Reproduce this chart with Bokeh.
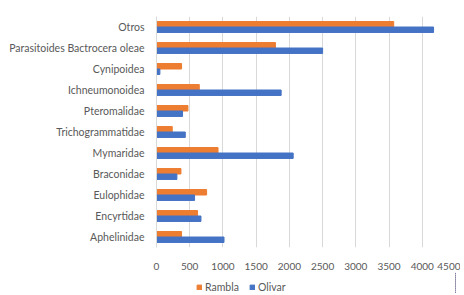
from bokeh.plotting import figure
from bokeh.layouts import column
from bokeh.models import ColumnDataSource, FactorRange, Legend, LegendItem, Range1d, SingleIntervalTicker
from bokeh.transform import dodge
from bokeh.embed import file_html
from bokeh.resources import INLINE

categories = ["Aphelinidae", "Encyrtidae", "Eulophidae", "Braconidae", "Mymaridae",
              "Trichogrammatidae", "Pteromalidae", "Ichneumonoidea", "Cynipoidea",
              "Parasitoides Bactrocera oleae", "Otros"]
rambla = [377, 618, 754, 368, 926, 237, 473, 644, 377, 1790, 3570]
olivar = [1016, 669, 573, 307, 2057, 433, 392, 1876, 51, 2500, 4170]
series = ["Rambla", "Olivar"]
colors = ["#ED7D31", "#4472C4"]

FONT = "Lato"
TXT = "#595959"

src = ColumnDataSource(dict(cat=categories, rambla=rambla, olivar=olivar))

p = figure(width=460, height=272, y_range=FactorRange(*categories, range_padding=0),
           x_range=Range1d(0, 4500), output_backend="svg", toolbar_location=None,
           min_border_left=156, min_border_right=5, min_border_top=16, min_border_bottom=21)
p.outline_line_color = None

p.hbar(y=dodge("cat", 0.13, range=p.y_range), right="rambla", left=0, height=0.26,
       source=src, color=colors[0])
p.hbar(y=dodge("cat", -0.13, range=p.y_range), right="olivar", left=0, height=0.26,
       source=src, color=colors[1])

p.xaxis.ticker = SingleIntervalTicker(interval=500)
p.xaxis.axis_line_color = None
p.xaxis.major_tick_line_color = None
p.xaxis.minor_tick_line_color = None
p.xaxis.major_label_standoff = 9
p.xaxis.major_label_text_font = FONT
p.xaxis.major_label_text_font_size = "10px"
p.xaxis.major_label_text_color = TXT

p.yaxis.axis_line_color = "#D9D9D9"
p.yaxis.major_tick_line_color = None
p.yaxis.minor_tick_line_color = None
p.yaxis.major_label_standoff = 6
p.yaxis.major_label_text_font = FONT
p.yaxis.major_label_text_font_size = "10.5px"
p.yaxis.major_label_text_color = TXT

p.xgrid.grid_line_color = "#D9D9D9"
p.ygrid.grid_line_color = None

# legend strip below the chart (its own renderers stay out of view)
pl = figure(width=460, height=21, y_range=FactorRange(*categories),
            x_range=Range1d(-20000, -10000), x_axis_type=None, y_axis_type=None,
            output_backend="svg", toolbar_location=None,
            min_border_left=0, min_border_right=0, min_border_top=0, min_border_bottom=0)
pl.outline_line_color = None
lr1 = pl.hbar(y="cat", right="rambla", left=0, height=0.5, source=src, color=colors[0])
lr2 = pl.hbar(y="cat", right="olivar", left=0, height=0.5, source=src, color=colors[1])

legend = Legend(items=[LegendItem(label=series[0], renderers=[lr1]),
                       LegendItem(label=series[1], renderers=[lr2])],
                orientation="horizontal", location=(40, 0),
                glyph_width=6, glyph_height=6, label_standoff=3, spacing=10,
                padding=0, margin=0, border_line_color=None, background_fill_alpha=0,
                label_text_font=FONT, label_text_font_size="10.5px", label_text_color=TXT)
pl.add_layout(legend)

layout = column(p, pl, spacing=0)
open("out.html", "w").write(file_html(layout, INLINE))
